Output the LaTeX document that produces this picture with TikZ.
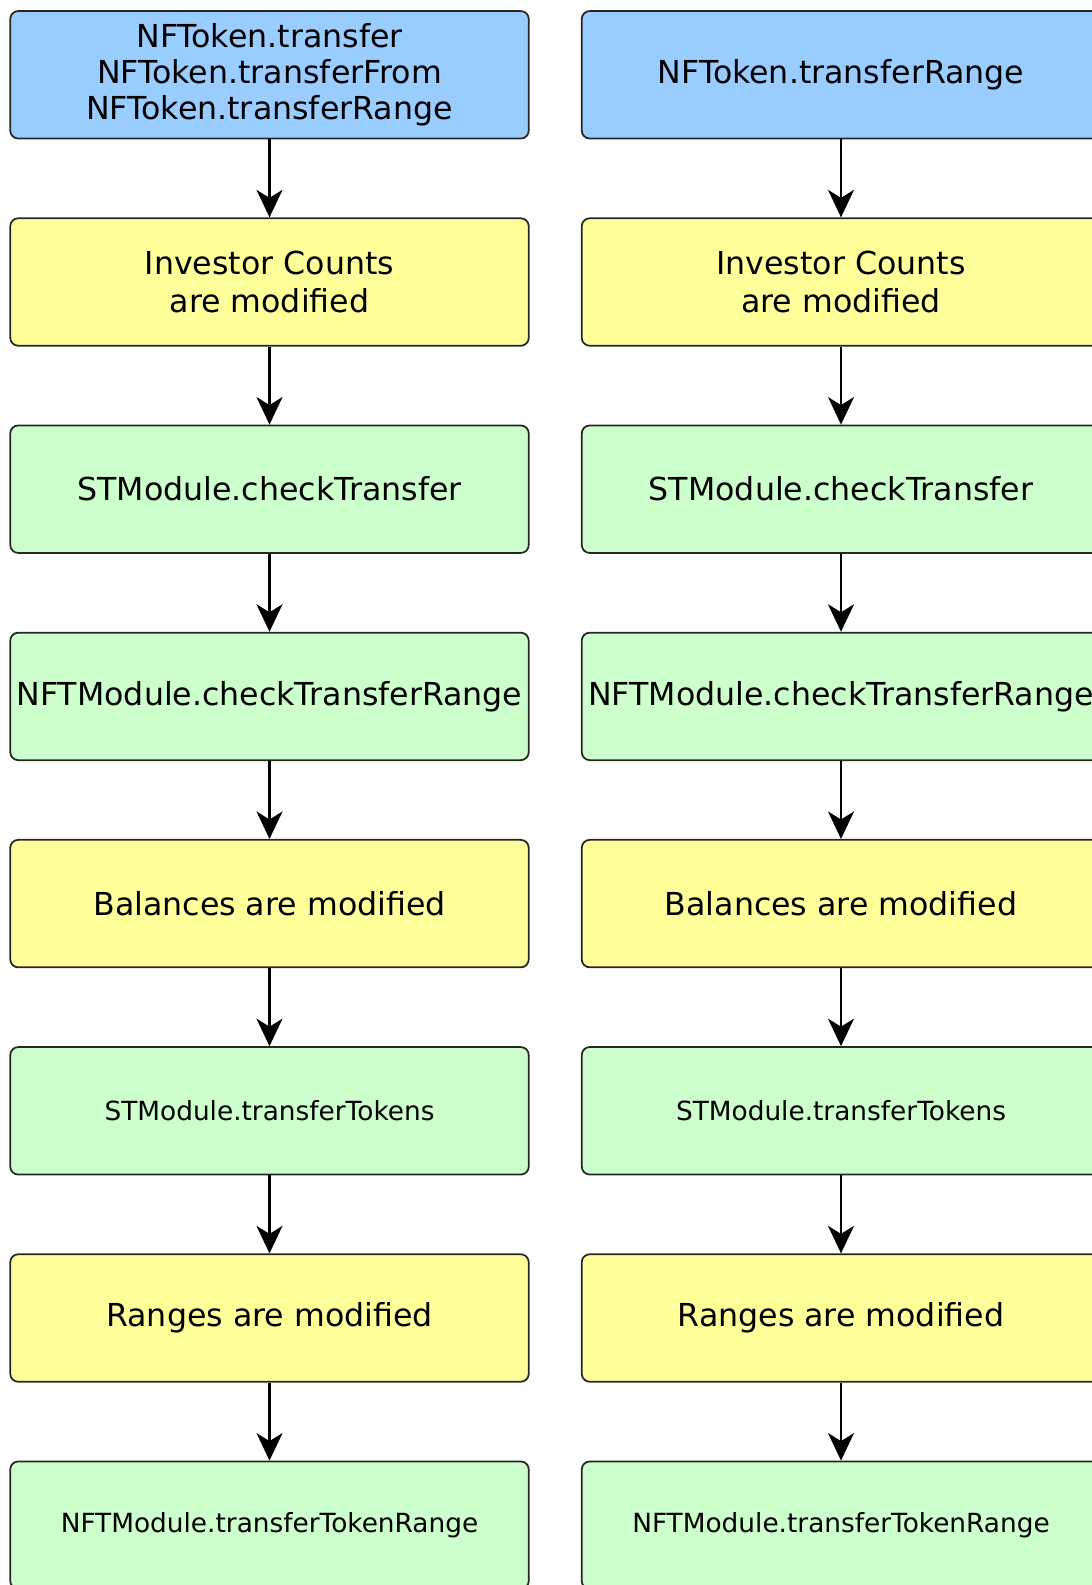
\documentclass[tikz,border=0pt]{standalone}
\usepackage{fontspec}
\setmainfont{DejaVu Sans}
\usetikzlibrary{arrows.meta}

\definecolor{callblue}{HTML}{99CCFF}
\definecolor{stateyellow}{HTML}{FFFF99}
\definecolor{hookgreen}{HTML}{CCFFCC}

\begin{document}
\begin{tikzpicture}[font=\fontsize{18}{20.6}\selectfont,
  box/.style={draw=black!85, line width=1pt, rounded corners=1.6mm, minimum width=10.37cm,
    minimum height=2.55cm, align=center, inner sep=0pt},
  callbox/.style={box, fill=callblue},
  statebox/.style={box, fill=stateyellow, font=\fontsize{18}{21.3}\selectfont},
  hookbox/.style={box, fill=hookgreen},
  smallhook/.style={hookbox, font=\fontsize{15}{17}\selectfont},
  flow/.style={draw=black, line width=1.2pt, -{Stealth[length=5.5mm, width=5.2mm, inset=1.6mm]}}
]
  \useasboundingbox (0,0) rectangle (21.82,-31.70);
  % left column: all transfer calls
  \node[callbox]   (l1) at (5.39,-1.496)  {NFToken.transfer\\NFToken.transferFrom\\NFToken.transferRange};
  \node[statebox]  (l2) at (5.39,-5.640)  {Investor Counts\\are modified};
  \node[hookbox]   (l3) at (5.39,-9.784)  {STModule.checkTransfer};
  \node[hookbox]   (l4) at (5.39,-13.928) {NFTModule.checkTransferRange};
  \node[statebox]  (l5) at (5.39,-18.072) {Balances are modified};
  \node[smallhook] (l6) at (5.39,-22.216) {STModule.transferTokens};
  \node[statebox]  (l7) at (5.39,-26.360) {Ranges are modified};
  \node[smallhook] (l8) at (5.39,-30.504) {NFTModule.transferTokenRange};
  % right column: range transfer only
  \node[callbox]   (r1) at (16.82,-1.496)  {NFToken.transferRange};
  \node[statebox]  (r2) at (16.82,-5.640)  {Investor Counts\\are modified};
  \node[hookbox]   (r3) at (16.82,-9.784)  {STModule.checkTransfer};
  \node[hookbox]   (r4) at (16.82,-13.928) {NFTModule.checkTransferRange};
  \node[statebox]  (r5) at (16.82,-18.072) {Balances are modified};
  \node[smallhook] (r6) at (16.82,-22.216) {STModule.transferTokens};
  \node[statebox]  (r7) at (16.82,-26.360) {Ranges are modified};
  \node[smallhook] (r8) at (16.82,-30.504) {NFTModule.transferTokenRange};

  \draw[flow] (l1) -- (l2); \draw[flow] (l2) -- (l3); \draw[flow] (l3) -- (l4);
  \draw[flow] (l4) -- (l5); \draw[flow] (l5) -- (l6); \draw[flow] (l6) -- (l7);
  \draw[flow] (l7) -- (l8);
  \draw[flow] (r1) -- (r2); \draw[flow] (r2) -- (r3); \draw[flow] (r3) -- (r4);
  \draw[flow] (r4) -- (r5); \draw[flow] (r5) -- (r6); \draw[flow] (r6) -- (r7);
  \draw[flow] (r7) -- (r8);
\end{tikzpicture}
\end{document}
